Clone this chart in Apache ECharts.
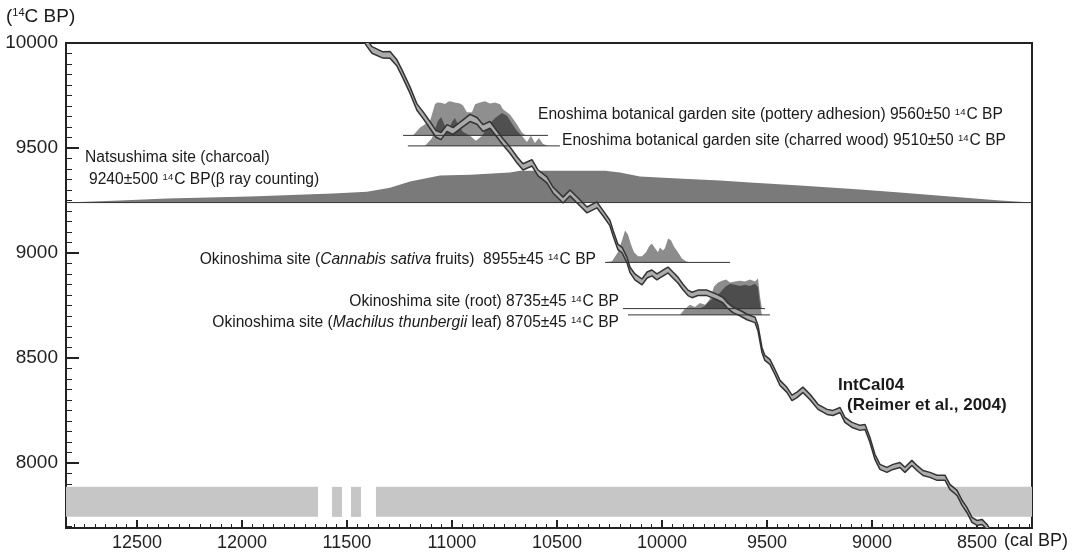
<!DOCTYPE html>
<html><head><meta charset="utf-8">
<script src="https://cdn.jsdelivr.net/npm/echarts@6/dist/echarts.min.js"></script>
<style>html,body{margin:0;padding:0;background:#fff}#c{width:1076px;height:557px}</style>
</head><body><div id="c"></div>
<script>
// ---- axis ticks ----
const majorX = [8500, 9000, 9500, 10000, 10500, 11000, 11500, 12000, 12500];
const majorY = [8000, 8500, 9000, 9500, 10000];
const xMin = 8238, xMax = 12838, yMin = 7690, yMax = 10000;

// ---- IntCal04 curve (cal BP, 14C BP, half band width) ----
const curveCal = [11429, 11405, 11381, 11329, 11295, 11262, 11238, 11200, 11167, 11138, 11105, 11076, 11052, 11024, 10995, 10952, 10914, 10881, 10852, 10819, 10786, 10757, 10724, 10690, 10662, 10619, 10590, 10548, 10519, 10471, 10438, 10390, 10357, 10310, 10281, 10248, 10233, 10210, 10190, 10167, 10152, 10129, 10095, 10071, 10048, 10024, 10010, 9986, 9971, 9948, 9924, 9900, 9876, 9857, 9829, 9786, 9762, 9738, 9710, 9690, 9662, 9629, 9595, 9557, 9543, 9524, 9510, 9486, 9462, 9438, 9405, 9381, 9357, 9329, 9295, 9257, 9214, 9186, 9152, 9129, 9095, 9057, 9033, 9010, 8986, 8962, 8929, 8900, 8867, 8843, 8810, 8786, 8757, 8724, 8690, 8652, 8629, 8595, 8571, 8548, 8524, 8500, 8476, 8452, 8429];
const curveC14 = [10038, 10000, 9967, 9943, 9943, 9905, 9857, 9776, 9695, 9657, 9610, 9567, 9557, 9595, 9581, 9614, 9643, 9629, 9595, 9610, 9567, 9529, 9490, 9443, 9410, 9429, 9381, 9348, 9300, 9252, 9286, 9238, 9205, 9229, 9190, 9143, 9095, 9029, 9014, 8967, 8919, 8886, 8862, 8895, 8905, 8886, 8895, 8910, 8919, 8895, 8871, 8838, 8810, 8800, 8810, 8810, 8800, 8790, 8776, 8752, 8729, 8714, 8695, 8681, 8643, 8538, 8500, 8481, 8433, 8381, 8348, 8310, 8324, 8348, 8314, 8267, 8243, 8238, 8252, 8205, 8181, 8167, 8171, 8110, 8029, 7981, 7967, 7981, 7990, 7967, 8000, 7976, 7952, 7943, 7929, 7929, 7886, 7857, 7810, 7776, 7729, 7714, 7719, 7695, 7657];
const curveErr = [16, 16, 16, 15, 16, 15, 15, 15, 15, 16, 16, 16, 17, 16, 16, 16, 17, 16, 16, 16, 15, 15, 15, 15, 15, 15, 14, 14, 14, 14, 14, 14, 14, 14, 13, 13, 13, 13, 13, 13, 13, 14, 14, 14, 14, 14, 14, 14, 14, 14, 14, 13, 13, 13, 13, 13, 13, 13, 13, 13, 13, 13, 13, 13, 13, 12, 12, 12, 12, 12, 12, 13, 13, 13, 13, 12, 12, 12, 12, 12, 12, 12, 12, 12, 12, 12, 12, 12, 12, 12, 12, 12, 12, 12, 12, 12, 12, 12, 12, 12, 12, 12, 12, 12, 12];

// ---- Calibrated probability distributions (cal BP, height in 14C yr above baseline) ----
const natsuBase = 9240;
const natsuCal = [12838, 12581, 12357, 11962, 11567, 11405, 11295, 11200, 11057, 10914, 10724, 10676, 10486, 10271, 10200, 10105, 9900, 9724, 9581, 9343, 9057, 8867, 8629, 8390, 8238];
const natsuH = [0, 10, 19, 29, 43, 52, 71, 100, 129, 133, 143, 152, 152, 152, 143, 124, 114, 105, 95, 81, 62, 48, 29, 10, 0];

const potBase = 9560;
const potCal = [11186, 11152, 11105, 11081, 11071, 11052, 11033, 11019, 11010, 10986, 10962, 10948, 10929, 10905, 10890, 10867, 10843, 10819, 10795, 10771, 10757, 10724, 10690, 10667, 10648];
const potH = [0, 38, 67, 148, 157, 155, 150, 160, 162, 157, 152, 143, 110, 110, 148, 157, 162, 152, 157, 148, 124, 100, 52, 14, 0];

const charBase = 9510;
const charCal = [11129, 11095, 11067, 11052, 11033, 11019, 11000, 10986, 10967, 10948, 10914, 10886, 10857, 10829, 10795, 10762, 10738, 10714, 10690, 10667, 10643, 10624, 10605, 10586, 10567, 10543];
const charH = [0, 38, 119, 138, 95, 67, 114, 133, 95, 67, 48, 24, 48, 95, 133, 157, 143, 105, 71, 48, 19, 48, 14, 38, 10, 0];

const canBase = 8955;
const canCal = [10271, 10238, 10210, 10190, 10176, 10162, 10148, 10133, 10114, 10095, 10076, 10062, 10048, 10033, 10019, 10010, 9995, 9986, 9971, 9957, 9943, 9924, 9905, 9886, 9867];
const canH = [0, 5, 48, 105, 152, 133, 86, 48, 29, 29, 48, 76, 90, 67, 48, 71, 57, 67, 114, 105, 76, 48, 19, 5, 0];

const rootBase = 8735;
const rootCal = [9819, 9795, 9771, 9752, 9733, 9714, 9695, 9676, 9652, 9629, 9605, 9581, 9557, 9543, 9533, 9524];
const rootH = [0, 14, 48, 105, 124, 133, 138, 124, 129, 133, 129, 138, 129, 143, 57, 0];

const machBase = 8705;
const machCal = [9914, 9895, 9867, 9843, 9819, 9795, 9771, 9748, 9724, 9700, 9676, 9652, 9629, 9605, 9581, 9557, 9543, 9533, 9524];
const machH = [0, 24, 48, 38, 57, 48, 67, 86, 105, 133, 148, 143, 138, 143, 138, 148, 133, 48, 0];

// baseline extents (14C BP, cal BP start, cal BP end)
const baseLines = [
  [natsuBase, 12838, 8238],
  [potBase, 11233, 10543],
  [charBase, 11210, 10486],
  [canBase, 10271, 9676],
  [rootBase, 10186, 9510],
  [machBase, 10162, 9486]
];

// ---- epoch band ----
const epochStart = [12838, 11571, 11481, 11362];
const epochEnd = [11638, 11524, 11433, 8238];
const epochLow = 7743, epochHigh = 7886;

// ---------------------------------------------------------
const minorX = []; for (let v = 8250; v <= 12800; v += 50) if (v % 500) minorX.push(v);
const minorY = []; for (let v = 7700; v < 10000; v += 50) if (v % 500) minorY.push(v);

const FONT = '"Liberation Sans", Arial, Helvetica, sans-serif';
const TXT = 15.6;

function polySeries(points, style) {
  return {
    type: 'custom', silent: true, clip: true, animation: false,
    data: [points[0]],
    renderItem: function (params, api) {
      return { type: 'polygon', shape: { points: points.map(p => api.coord(p)) }, style: style };
    }
  };
}
function distPoints(cal, h, base) {
  return cal.map((c, i) => [c, base + h[i]]);
}

const chart = echarts.init(document.getElementById('c'));
const axisCommonX = { type: 'value', inverse: true, min: xMin, max: xMax, gridIndex: 0, position: 'bottom', splitLine: { show: false } };
const axisCommonY = { type: 'value', min: yMin, max: yMax, gridIndex: 0, position: 'left', splitLine: { show: false } };

const sup = { fontSize: 9.5, fontFamily: FONT, verticalAlign: 'top', padding: [0, 1, 0, 0] };
const ital = { fontSize: TXT, fontFamily: FONT, fontStyle: 'italic' };
function txt(x, y, text, opts) {
  return {
    type: 'text', x: x, y: y, silent: true,
    style: Object.assign({ text: text, fill: '#1a1a1a', fontSize: TXT, fontFamily: FONT, verticalAlign: 'middle', align: 'left',
      rich: { s: sup, i: ital } }, opts || {})
  };
}

const bandPts = curveCal.map((c, i) => [c, curveC14[i] + curveErr[i]])
  .concat(curveCal.map((c, i) => [c, curveC14[i] - curveErr[i]]).reverse());

chart.setOption({
  animation: false,
  backgroundColor: '#fff',
  grid: { left: 66, right: 44, top: 43, bottom: 29, outerBoundsMode: 'none', containLabel: false,
    show: true, borderColor: '#222', borderWidth: 2, backgroundColor: 'transparent' },
  xAxis: [
    Object.assign({}, axisCommonX, {
      axisLine: { show: true, lineStyle: { color: '#222', width: 2 } },
      axisTick: { show: true, inside: true, length: 8, customValues: majorX, lineStyle: { color: '#222', width: 2 } },
      axisLabel: { show: true, customValues: majorX, formatter: v => String(v), fontSize: 18, fontFamily: FONT, color: '#222', margin: 6 }
    }),
    Object.assign({}, axisCommonX, {
      axisLine: { show: false },
      axisTick: { show: true, inside: true, length: 4, customValues: minorX, lineStyle: { color: '#222', width: 1 } },
      axisLabel: { show: false }
    })
  ],
  yAxis: [
    Object.assign({}, axisCommonY, {
      axisLine: { show: true, lineStyle: { color: '#222', width: 2 } },
      axisTick: { show: true, inside: true, length: 13, customValues: majorY, lineStyle: { color: '#222', width: 2 } },
      axisLabel: { show: true, customValues: majorY, formatter: v => String(v), fontSize: 19, fontFamily: FONT, color: '#222', margin: 8 }
    }),
    Object.assign({}, axisCommonY, {
      axisLine: { show: false },
      axisTick: { show: true, inside: true, length: 6, customValues: minorY, lineStyle: { color: '#222', width: 1 } },
      axisLabel: { show: false }
    })
  ],
  series: [
    {
      type: 'custom', silent: true, clip: true,
      data: epochStart.map((s, i) => [s, epochEnd[i], epochLow, epochHigh]),
      encode: { x: [0, 1], y: [2, 3] },
      renderItem: function (params, api) {
        const p1 = api.coord([api.value(0), api.value(2)]);
        const p2 = api.coord([api.value(1), api.value(3)]);
        return { type: 'rect', shape: { x: Math.min(p1[0], p2[0]), y: Math.min(p1[1], p2[1]), width: Math.abs(p2[0] - p1[0]), height: Math.abs(p2[1] - p1[1]) }, style: { fill: '#c6c6c6' } };
      }
    },
    polySeries(distPoints(natsuCal, natsuH, natsuBase), { fill: '#7a7a7a' }),
    polySeries(distPoints(potCal, potH, potBase), { fill: 'rgba(0,0,0,0.44)' }),
    polySeries(distPoints(charCal, charH, charBase), { fill: 'rgba(0,0,0,0.44)' }),
    polySeries(distPoints(canCal, canH, canBase), { fill: 'rgba(0,0,0,0.45)' }),
    polySeries(distPoints(rootCal, rootH, rootBase), { fill: 'rgba(0,0,0,0.45)' }),
    polySeries(distPoints(machCal, machH, machBase), { fill: 'rgba(0,0,0,0.45)' }),
    ...baseLines.map(b => ({
      type: 'line', symbol: 'none', silent: true,
      data: [[b[1], b[0]], [b[2], b[0]]],
      lineStyle: { color: '#333', width: 1 }
    })),
    polySeries(bandPts, { fill: '#ababab' }),
    {
      type: 'line', symbol: 'none', silent: true,
      data: curveCal.map((c, i) => [c, curveC14[i] - curveErr[i]]),
      lineStyle: { color: '#333', width: 1.5 }
    },
    {
      type: 'line', symbol: 'none', silent: true,
      data: curveCal.map((c, i) => [c, curveC14[i] + curveErr[i]]),
      lineStyle: { color: '#333', width: 1.5 }
    }
  ],
  graphic: [
    txt(6, 17, '({a|14}C BP)', { fontSize: 19, rich: { a: { fontSize: 11, fontFamily: FONT, verticalAlign: 'top' } } }),
    txt(1004, 541, '(cal BP)', { fontSize: 18 }),
    txt(538, 115, 'Enoshima botanical garden site (pottery adhesion) 9560±50 {s|14}C BP'),
    txt(562, 141, 'Enoshima botanical garden site (charred wood) 9510±50 {s|14}C BP'),
    txt(85, 158, 'Natsushima site (charcoal)'),
    txt(89, 180, '9240±500 {s|14}C BP(β ray counting)'),
    txt(596, 260, 'Okinoshima site ({i|Cannabis sativa} fruits)  8955±45 {s|14}C BP', { align: 'right' }),
    txt(619, 302, 'Okinoshima site (root) 8735±45 {s|14}C BP', { align: 'right' }),
    txt(619, 323, 'Okinoshima site ({i|Machilus thunbergii} leaf) 8705±45 {s|14}C BP', { align: 'right' }),
    txt(838, 385, 'IntCal04', { fontWeight: 'bold', fontSize: 17 }),
    txt(847, 405, '(Reimer et al., 2004)', { fontWeight: 'bold', fontSize: 17 }),
    txt(192, 502, 'Pleistocene', { fontWeight: 'bold', fontSize: 17, align: 'center' }),
    txt(678, 502, 'Holocene', { fontWeight: 'bold', fontSize: 17, align: 'center' })
  ]
});
</script></body></html>
